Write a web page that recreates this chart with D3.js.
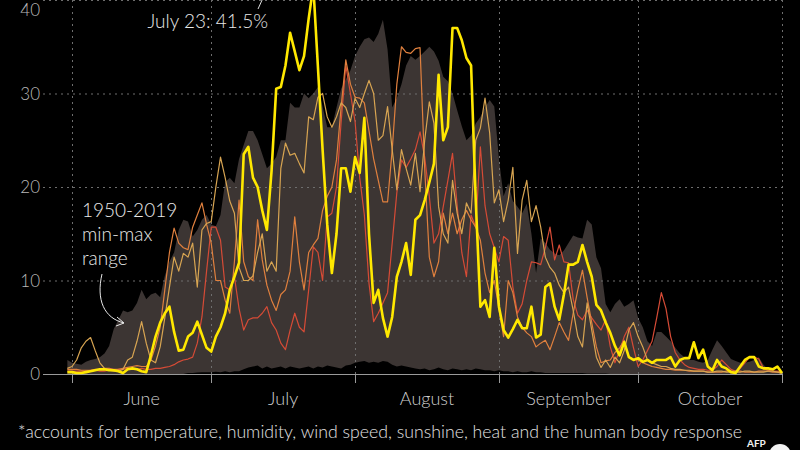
<!DOCTYPE html>
<meta charset="utf-8">
<head>
	<title>Heat stress days, June - October</title>
</head>

<style>
body{
	margin: 0;
	background: #000;
}
svg{
	display: block;
	background: #000;
	font-family: Lato, "Open Sans", sans-serif;
	font-weight: 300;
}
.grid line{
	stroke: #6e6e6e;
	stroke-width: 1;
	stroke-dasharray: 2,4;
}
.ylab{
	fill: #b8b8b8;
	font-size: 17px;
	text-anchor: end;
}
.month{
	fill: #cfcfcf;
	font-size: 18px;
	text-anchor: middle;
}
.note{
	fill: #e8e8e8;
	font-size: 19px;
}
.thin{
	fill: none;
	stroke-width: 1.2;
	stroke-linejoin: round;
}
</style>

<body>
<svg id="chart" width="800" height="450"></svg>

<script src="https://cdnjs.cloudflare.com/ajax/libs/d3/7.8.5/d3.min.js"></script>
<script>

// daily values, first value is May 31, last is Nov 1 (% share)
var y2022 = [
	0.2,0.2,0.1,0.1,0.2,0.3,0.4,0.5,0.5,0.4,
	0.4,0.3,0.1,0.5,0.6,0.5,0.3,0.2,2,4,
	5.5,6.5,7.2,4.5,2.5,2.6,4,4.4,5.6,4.2,
	2.8,2.4,4,5,6.5,9,10.4,11.9,23.5,24.3,
	21,20,17.5,15.4,21.7,30.5,30.7,33,36.5,34.5,
	32.5,34,38,41.5,32.8,24,16,10.8,15,22,
	22,19.5,23.2,21.5,27.4,15,7.6,9,6,4,
	6.1,10.4,12,14,10.6,16.5,17,18.6,20.5,22.5,
	32,25,26.4,37,37,35.7,33.8,33,18.6,7.2,
	7.9,6.1,13.5,7.2,4.7,3.9,4.8,5.8,4.9,4.9,
	7.2,3.9,4.2,9.3,9.7,7.2,5.8,8.5,11.7,11.7,
	12,13.8,12,10.4,7.4,6.8,5.5,4.4,3,2,
	3.4,1.8,1.5,1.7,1.3,1.5,1.2,1.5,1.5,1.5,
	1.8,0.8,1.5,1.7,1.7,3.4,1.7,2.6,0.8,0.4,
	1.5,0.8,0.6,0.2,0.1,0.8,1.5,1.8,1.8,0.8,
	0.6,0.6,0.5,0.8,0.1
];

var gold = [
	0.6,0.8,1.5,2.8,3.5,3.9,2.5,1.2,0.6,0.4,
	0.3,0.3,0.5,1.5,1.8,3.5,5.6,3.3,1.5,1.2,
	2.9,6,9.3,12.5,11,12.9,12.5,14,9.3,15.4,
	16.1,16.3,20,23.2,21,18.5,17.2,11.4,10,10,
	10.5,13,15,11,12,11,22,24.7,23.4,23.6,
	22.5,21.5,27.5,27.2,29.6,30,27.5,26.4,27.5,29,
	28.5,27,29.5,28.5,30,31.4,30,25,25.5,28.6,
	24,19.7,24,22,20.2,23.6,19.5,25,29.1,26.8,
	17.9,15,14,20.7,17.2,15,18.3,17.2,25,26.3,
	29.5,25.8,18.3,19.7,16.3,18.6,22.1,12.9,18.6,20.7,
	16.3,18,15.7,12.5,11.4,10.8,9.5,8.7,9.3,6.8,
	4,2.9,7.6,4.7,1.8,0.7,1.5,0.7,1.8,1.2,
	2.5,4.7,5.5,4,2.9,1.5,1.2,1.0,0.8,0.8,
	0.6,0.5,0.5,0.4,0.4,0.3,0.3,0.3,0.2,0.2,
	0.3,0.3,0.2,0.2,0.2,0.2,0.3,0.3,0.2,0.2,
	0.2,0.3,0.3,0.2,0.1
];

var orange = [
	0.5,0.5,0.5,0.4,0.4,0.4,0.5,0.5,0.6,0.6,
	0.5,0.5,0.6,0.7,0.8,0.9,0.8,0.8,1.5,3,
	5,9,13,15.6,14,13.5,13.3,15.7,17,18.3,
	16,14,10,10,7.9,6.5,12,18.6,12,10.4,
	10,16.5,12.2,9.5,7.9,6.8,8.5,9,11,16.8,
	12,9,13,13.8,14.5,17.5,19,20,22.9,28.6,
	33.6,31,29.6,29.5,29,26,23,20.7,18.4,18.4,
	24,31,35,34.4,34.3,34.8,34.9,22,12.5,10.4,
	12,17.2,15,17.2,15,16.5,17.5,16.5,15.7,14.3,
	10.8,8.7,10,7,4,10,8.7,6.1,5,4.4,
	4,2.9,3.3,3.6,2.6,4,5.5,4.5,3.6,6.5,
	9,11.1,8.2,5.5,2.9,1.2,1.4,1.5,2.3,2.8,
	3.6,1.8,1.6,1.5,1.2,1.0,0.8,0.7,0.6,0.5,
	0.5,0.4,0.4,0.4,0.3,0.3,0.3,0.3,0.2,0.2,
	0.2,0.2,0.3,0.3,0.3,0.3,0.2,0.2,0.2,0.3,
	0.3,0.3,0.2,0.2,0.1
];

var red = [
	0.3,0.3,0.3,0.3,0.3,0.4,0.4,0.3,0.3,0.4,
	0.4,0.5,0.5,0.6,0.5,0.5,0.6,0.5,0.5,0.6,
	0.6,0.7,0.8,1,1.3,1.5,1.6,1.8,3.3,6.1,
	11,15.7,15.7,14.3,9.3,9,10.4,7,4.7,5.8,
	6,6,6.5,7.2,5.5,4.7,3.3,2.6,4.7,6.5,
	5,4.5,9,13.6,13,10,16.8,17.2,20,27,
	33,30,27,21,17,9.7,5.6,6.5,7.6,8.7,
	14,19.4,22.9,22.1,23,24,25.9,23.2,19,14,
	15,17.9,20.7,23.6,18,13,10.4,17,15.7,24.3,
	18,15,13.5,12,14.7,14.3,9.3,6.5,7.5,10,
	12,11.9,11.7,13.5,15.7,12.2,13.8,12,11.9,8,
	6.3,5.8,6.8,6,5.3,4.7,5.8,2.9,1.2,2.5,
	4,5,2.8,0.8,1.5,2.5,3.5,6,8.7,7,
	4,2.3,1.5,1,0.7,0.6,0.5,0.5,0.4,0.4,
	0.8,1.5,1,0.5,0.3,0.6,1.2,1.8,1.8,1.6,
	0.6,0.4,0.3,0.3,0.2
];

// 1950-2019 range
var rangeMax = [
	1.5,1.2,1.1,1,1.3,1.5,1.6,1.8,2.2,3,
	4.8,5.8,6.8,6.6,6.8,7.6,9,8,8.5,8.7,
	8.2,10.5,12,13,15.4,16.5,16.3,14.7,15.4,16.5,
	17,16,15.8,17,20.5,21,20.4,23,24.5,26,
	26,25,23.5,22,22.5,23.2,25,25,29,28.5,
	28.5,30,29.5,30,30.7,28.6,26.4,26.4,28.5,30.5,
	31.5,32.5,34,35,35.8,36,35.5,36.4,37.9,34.7,
	28.5,29.5,31,33,34,33.6,34,34.5,35,34.5,
	33.5,31.8,31.3,30,28.2,26.5,25,25.5,26.8,27.5,
	28.5,29.3,28.6,23,19,20.4,18.5,17.9,17.2,18.2,
	15,10.8,14.5,14,13.3,12.9,12.7,13.2,14,14.8,
	14.6,14.5,16.5,16,12.5,11.3,7.5,6.6,7.5,8,
	7.2,7.5,7.9,6,5,3.5,3,4.5,4.5,4,
	3.5,2.8,2.2,1.8,1.5,1.5,1.3,1.2,1.5,2.6,
	3.6,3,2.3,1.6,1.4,1.2,1.2,1.3,1.5,1.8,
	1,0.5,0.3,0.2,0.1
];

var rangeMin = [
	0,0,0,0,0,0,0,0,0,0,
	0,0,0,0,0,0,0,0,0,0,
	0,0,0,0,0,0,0.1,0.1,0.15,0.2,
	0.2,0.2,0.25,0.2,0.3,0.2,0.3,0.3,0.5,0.7,
	0.8,0.9,0.6,0.8,0.6,0.7,0.8,0.6,0.8,0.7,
	0.6,0.7,0.8,0.6,0.8,0.7,0.9,0.8,0.7,0.6,
	0.9,1.0,1.2,1.3,1.4,1.2,1.3,1.2,1.4,1.3,
	1.0,0.8,0.9,0.8,0.7,0.6,0.5,0.6,0.4,0.5,
	0.7,0.5,0.4,0.6,0.5,0.4,0.5,0.4,0.6,0.5,
	0.4,0.4,0.3,0.4,0.3,0.3,0.2,0.3,0.2,0.2,
	0.3,0.2,0.2,0.1,0.1,0.1,0.1,0.1,0.1,0.1,
	0.1,0.1,0.05,0.05,0.05,0.05,0.05,0,0,0,
	0,0,0,0,0,0,0,0,0,0,
	0,0,0,0,0,0,0,0,0,0,
	0,0,0,0,0,0,0,0,0,0,
	0,0,0,0,0
];

var months = ['June', 'July', 'August', 'September', 'October'];
var yTicks = [0, 10, 20, 30, 40];

var svg = d3.select('#chart');

var firstDay = new Date(2022, 4, 31);
var x = d3.scaleTime()
	.domain([new Date(2022, 5, 1), new Date(2022, 10, 1)])
	.range([72, 782]);
var y = d3.scaleLinear()
	.domain([0, 40])
	.range([374, 0]);

function day(i){
	return d3.timeDay.offset(firstDay, i);
}

var monthStarts = d3.timeMonth.range(new Date(2022, 5, 1), new Date(2022, 10, 2));

// min-max area
var area = d3.area()
	.x(function(d, i){ return x(day(i)); })
	.y0(function(d, i){ return y(rangeMin[i]); })
	.y1(function(d){ return y(d); });

svg.append('path')
	.datum(rangeMax)
	.attr('d', area)
	.attr('fill', '#3c3533');

// grid
var grid = svg.append('g').attr('class', 'grid');

grid.selectAll('.hl')
	.data(yTicks.filter(function(d){ return d > 0; }))
	.enter()
	.append('line')
	.attr('x1', 43)
	.attr('x2', 782)
	.attr('y1', function(d){ return y(d) + 0.5; })
	.attr('y2', function(d){ return y(d) + 0.5; });

grid.selectAll('.vl')
	.data(monthStarts)
	.enter()
	.append('line')
	.attr('x1', function(d){ return Math.round(x(d)) + 0.5; })
	.attr('x2', function(d){ return Math.round(x(d)) + 0.5; })
	.attr('y1', 0)
	.attr('y2', y(0));

// baseline + ticks
svg.append('line')
	.attr('x1', 43)
	.attr('x2', 782)
	.attr('y1', y(0) + 0.5)
	.attr('y2', y(0) + 0.5)
	.attr('stroke', '#9a9a9a');

svg.selectAll('.tick')
	.data(monthStarts)
	.enter()
	.append('line')
	.attr('x1', function(d){ return Math.round(x(d)) + 0.5; })
	.attr('x2', function(d){ return Math.round(x(d)) + 0.5; })
	.attr('y1', y(0))
	.attr('y2', y(0) + 9)
	.attr('stroke', '#9a9a9a');

// y labels (top one kept just inside the frame)
svg.selectAll('.ylab')
	.data(yTicks)
	.enter()
	.append('text')
	.attr('class', 'ylab')
	.attr('x', 40)
	.attr('y', function(d){ return Math.max(y(d) + 6, 16); })
	.text(function(d){ return d; });

// month labels
svg.selectAll('.month')
	.data(months)
	.enter()
	.append('text')
	.attr('class', 'month')
	.attr('x', function(d, i){ return (x(monthStarts[i]) + x(monthStarts[i+1])) / 2; })
	.attr('y', 405)
	.text(function(d){ return d; });

// year lines
var line = d3.line()
	.x(function(d, i){ return x(day(i)); })
	.y(function(d){ return y(d); });

var thinSeries = [
	{values: red, color: '#d64b36'},
	{values: orange, color: '#e0803e'},
	{values: gold, color: '#d8a552'}
];

svg.selectAll('.thin')
	.data(thinSeries)
	.enter()
	.append('path')
	.attr('class', 'thin')
	.attr('stroke', function(d){ return d.color; })
	.attr('d', function(d){ return line(d.values); });

svg.append('path')
	.datum(y2022)
	.attr('d', line)
	.attr('fill', 'none')
	.attr('stroke', '#ffe800')
	.attr('stroke-width', 2.6)
	.attr('stroke-linejoin', 'round');

// annotations
svg.append('text')
	.attr('class', 'note')
	.attr('x', 268)
	.attr('y', 28)
	.attr('text-anchor', 'end')
	.text('July 23: 41.5%');

svg.append('path')
	.attr('d', 'M258,9 L263,-2')
	.attr('stroke', '#ddd')
	.attr('fill', 'none');

var rl = svg.append('text')
	.attr('class', 'note')
	.attr('x', 82);
['1950-2019', 'min-max', 'range'].forEach(function(t, i){
	rl.append('tspan')
		.attr('x', 82)
		.attr('y', 217 + i * 24)
		.text(t);
});

svg.append('path')
	.attr('d', 'M102,274 C96,300 104,318 124,323')
	.attr('stroke', '#e8e8e8')
	.attr('fill', 'none');
svg.append('path')
	.attr('d', 'M117,317 L124,323 L116,326')
	.attr('stroke', '#e8e8e8')
	.attr('fill', 'none');

// footnote
svg.append('text')
	.attr('x', 18)
	.attr('y', 438)
	.attr('fill', '#e2e2e2')
	.attr('font-size', 17)
	.attr('textLength', 724)
	.attr('lengthAdjust', 'spacingAndGlyphs')
	.text('*accounts for temperature, humidity, wind speed, sunshine, heat and the human body response');

// logo at the bottom edge
svg.append('text')
	.attr('x', 747)
	.attr('y', 447)
	.attr('fill', '#f2f2f2')
	.attr('font-size', 10)
	.attr('font-weight', 700)
	.text('AFP');
svg.append('circle')
	.attr('cx', 780)
	.attr('cy', 455)
	.attr('r', 11)
	.attr('fill', '#f2f2f2');

</script>
</body>
</html>
